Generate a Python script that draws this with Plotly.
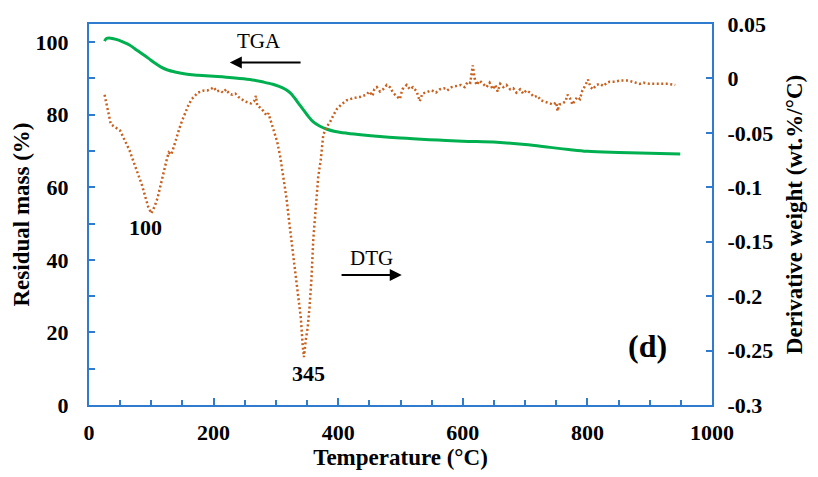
import plotly.graph_objects as go

# TGA (residual mass, %)
tga_T = [25, 28, 35, 45, 55, 65, 75, 85, 95, 105, 115, 125, 140, 155, 175, 200, 230, 258,
         280, 295, 305, 315, 323, 330, 339, 350, 360, 370, 382, 395, 414, 440, 467, 500,
         520, 560, 600, 655, 700, 740, 770, 800, 850, 900, 949]
tga_mass = [100.3, 101.0, 101.1, 100.7, 100.0, 99.2, 98.0, 96.8, 95.6, 94.3, 93.2, 92.4, 91.7,
            91.2, 90.9, 90.6, 90.2, 89.7, 89.0, 88.4, 87.8, 87.0, 86.0, 84.6, 82.5, 80.0, 78.0,
            76.9, 76.0, 75.4, 74.9, 74.4, 74.0, 73.6, 73.4, 73.0, 72.7, 72.4, 71.8, 71.0, 70.4,
            69.9, 69.6, 69.4, 69.2]

# DTG (derivative weight, wt.%/°C)
dtg_T = [25, 30, 35, 40, 45, 50, 55, 60, 65, 70, 75, 80, 85, 90, 95, 100, 105, 110, 115, 120,
         125, 128, 132, 136, 140, 145, 150, 155, 160, 165, 170, 175, 180, 185, 190, 195, 200,
         205, 210, 215, 220, 225, 230, 235, 240, 245, 250, 255, 260, 265, 268, 270, 275, 280,
         285, 288, 292, 297, 302, 307, 312, 317, 322, 327, 332, 337, 340, 343, 345, 348, 351,
         354, 357, 360, 364, 368, 372, 376, 381, 387, 393, 398, 405, 414, 425, 435, 445, 450,
         455, 458, 462, 467, 472, 478, 483, 488, 493, 499, 503, 510, 515, 520, 526, 531, 535,
         543, 550, 557, 563, 570, 575, 582, 590, 597, 603, 608, 612, 616, 619, 622, 627, 632,
         638, 643, 648, 652, 656, 660, 665, 670, 676, 681, 686, 692, 697, 702, 708, 714, 720,
         725, 730, 738, 745, 750, 752, 755, 760, 765, 768, 772, 776, 780, 784, 788, 792, 797,
         801, 805, 809, 814, 820, 826, 831, 836, 845, 852, 860, 866, 872, 878, 884, 890, 900,
         910, 920, 930, 941]
dtg_val = [-0.015, -0.030, -0.042, -0.044, -0.046, -0.048, -0.054, -0.060, -0.066, -0.074,
           -0.082, -0.090, -0.098, -0.108, -0.118, -0.124, -0.118, -0.110, -0.098, -0.084,
           -0.074, -0.068, -0.070, -0.063, -0.055, -0.046, -0.038, -0.030, -0.024, -0.019,
           -0.016, -0.013, -0.012, -0.011, -0.011, -0.010, -0.008, -0.012, -0.011, -0.013,
           -0.010, -0.014, -0.015, -0.014, -0.017, -0.019, -0.021, -0.022, -0.023, -0.021,
           -0.016, -0.025, -0.027, -0.030, -0.034, -0.032, -0.040, -0.048, -0.058, -0.072,
           -0.090, -0.110, -0.135, -0.160, -0.185, -0.205, -0.220, -0.245, -0.256, -0.240,
           -0.229, -0.210, -0.185, -0.148, -0.115, -0.090, -0.075, -0.052, -0.045, -0.040,
           -0.033, -0.028, -0.024, -0.020, -0.018, -0.017, -0.015, -0.012, -0.016, -0.010,
           -0.008, -0.012, -0.010, -0.006, -0.008, -0.013, -0.016, -0.019, -0.010, -0.006,
           -0.010, -0.008, -0.012, -0.021, -0.014, -0.012, -0.011, -0.013, -0.010, -0.009,
           -0.011, -0.008, -0.007, -0.006, -0.008, -0.003, -0.004, 0.012, 0.000, -0.006,
           -0.002, -0.005, -0.008, -0.004, -0.010, -0.006, -0.012, -0.005, -0.008, -0.006,
           -0.010, -0.009, -0.013, -0.010, -0.014, -0.011, -0.013, -0.017, -0.016, -0.020,
           -0.021, -0.022, -0.024, -0.022, -0.030, -0.024, -0.023, -0.021, -0.015, -0.018,
           -0.024, -0.020, -0.017, -0.019, -0.011, -0.006, -0.001, -0.008, -0.010, -0.006,
           -0.005, -0.007, -0.004, -0.003, -0.003, -0.002, -0.002, -0.002, -0.003, -0.004,
           -0.005, -0.004, -0.005, -0.005, -0.005, -0.005, -0.006]

right_ticks = [0.05, 0, -0.05, -0.1, -0.15, -0.2, -0.25, -0.3]
right_labels = ["0.05", "0", "-0.05", "-0.1", "-0.15", "-0.2", "-0.25", "-0.3"]

BLUE = "#2E7BCF"
FONT = "Liberation Serif"

fig = go.Figure()
fig.add_trace(go.Scatter(x=tga_T, y=tga_mass, mode="lines", name="TGA",
                         line=dict(color="#00B050", width=3, shape="spline"), yaxis="y"))
fig.add_trace(go.Scatter(x=dtg_T, y=dtg_val, mode="lines", name="DTG",
                         line=dict(color="#C8601E", width=2.5, dash="2px,2.5px"), yaxis="y2"))

tickfont = dict(family=FONT, size=22, color="black", weight="bold")
titlefont = dict(family=FONT, size=23, color="black", weight="bold")

fig.update_layout(
    width=818, height=477,
    margin=dict(l=89, r=106, t=21, b=69),
    paper_bgcolor="white", plot_bgcolor="white",
    showlegend=False,
    xaxis=dict(range=[0, 1000], dtick=200, tick0=0, ticks="inside", ticklen=7, tickwidth=2,
               tickcolor=BLUE, showline=True, linecolor=BLUE, linewidth=2, mirror=True,
               showgrid=False, zeroline=False, tickfont=tickfont, ticklabelstandoff=7,
               minor=dict(dtick=50, ticks="inside", ticklen=5, tickwidth=2, tickcolor=BLUE, showgrid=False),
               title=dict(text="Temperature (°C)", font=titlefont, standoff=3)),
    yaxis=dict(range=[0, 105], dtick=20, tick0=0, ticks="inside", ticklen=6, tickwidth=2,
               tickcolor=BLUE, showline=True, linecolor=BLUE, linewidth=2,
               showgrid=False, zeroline=False, tickfont=tickfont, ticklabelstandoff=14,
               minor=dict(dtick=10, ticks="inside", ticklen=6, tickwidth=2, tickcolor=BLUE, showgrid=False),
               title=dict(text="Residual mass (%)", font=titlefont, standoff=0)),
    yaxis2=dict(range=[-0.3, 0.05], overlaying="y", side="right", tickvals=right_ticks,
                ticktext=right_labels, ticks="inside", ticklen=6, tickwidth=2, tickcolor=BLUE,
                showline=True, linecolor=BLUE, linewidth=2, showgrid=False, zeroline=False,
                tickfont=tickfont, ticklabelstandoff=9,
                title=dict(text="Derivative weight (wt.%/°C)", font=titlefont, standoff=14)),
)

ann_font = dict(family=FONT, size=21, color="black")
fig.add_annotation(x=273, y=100.4, xref="x", yref="y", text="TGA", showarrow=False, font=ann_font)
fig.add_annotation(x=226, y=94.4, ax=342, ay=94.4, xref="x", yref="y", axref="x", ayref="y",
                   text="", showarrow=True, arrowhead=2, arrowsize=1.2, arrowwidth=2, arrowcolor="black")
fig.add_annotation(x=453, y=40.4, xref="x", yref="y", text="DTG", showarrow=False, font=ann_font)
fig.add_annotation(x=502, y=35.8, ax=403, ay=35.8, xref="x", yref="y", axref="x", ayref="y",
                   text="", showarrow=True, arrowhead=2, arrowsize=1.2, arrowwidth=2, arrowcolor="black")
fig.add_annotation(x=90, y=48.8, xref="x", yref="y", text="<b>100</b>", showarrow=False,
                   font=dict(family=FONT, size=22, color="black"))
fig.add_annotation(x=353, y=8.7, xref="x", yref="y", text="<b>345</b>", showarrow=False,
                   font=dict(family=FONT, size=22, color="black"))
fig.add_annotation(x=897, y=16.3, xref="x", yref="y", text="<b>(d)</b>", showarrow=False,
                   font=dict(family=FONT, size=32, color="black"))

fig.write_html("out.html")
